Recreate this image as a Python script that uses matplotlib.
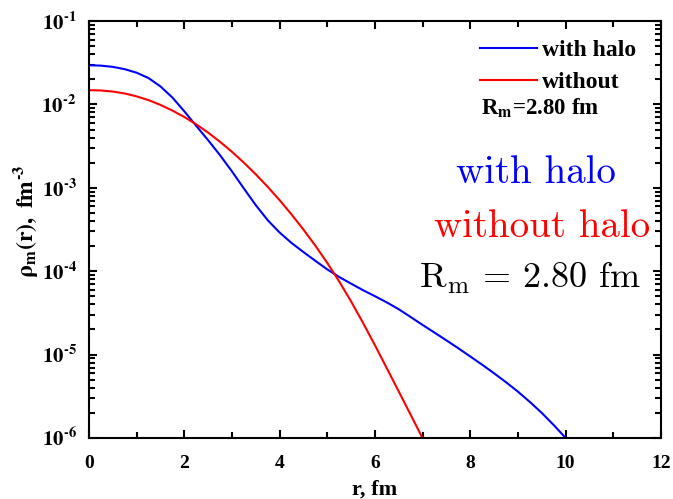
import matplotlib
matplotlib.use('Agg')
import matplotlib.pyplot as plt
from matplotlib.ticker import FixedLocator, LogLocator, NullFormatter, FuncFormatter
import numpy as np

# density profiles (log10 of rho, fm^-3)
r_halo = [0.0, 0.25, 0.5, 0.75, 1.0, 1.25, 1.5, 1.75, 2.0, 2.25, 2.5, 2.75,
          3.0, 3.25, 3.5, 3.75, 4.0, 4.25, 4.5, 4.75, 5.0, 5.25, 5.5, 5.75,
          6.0, 6.25, 6.5, 6.75, 7.0, 7.25, 7.5, 7.75, 8.0, 8.25, 8.5, 8.75,
          9.0, 9.25, 9.5, 9.75, 10.0]
lg_halo = [-1.530, -1.535, -1.550, -1.578, -1.620, -1.685, -1.785, -1.918,
           -2.083, -2.258, -2.430, -2.610, -2.804, -3.009, -3.209, -3.389,
           -3.537, -3.662, -3.771, -3.876, -3.979, -4.070, -4.150, -4.228,
           -4.300, -4.375, -4.457, -4.550, -4.645, -4.737, -4.830, -4.925,
           -5.023, -5.122, -5.225, -5.332, -5.445, -5.568, -5.700, -5.845,
           -6.000]

r_nohalo = [0.0, 0.25, 0.5, 0.75, 1.0, 1.25, 1.5, 1.75, 2.0, 2.25, 2.5, 2.75,
            3.0, 3.25, 3.5, 3.75, 4.0, 4.25, 4.5, 4.75, 5.0, 5.25, 5.5, 5.75,
            6.0, 6.25, 6.5, 6.75, 7.0]
lg_nohalo = [-1.829, -1.833, -1.846, -1.869, -1.904, -1.949, -2.006, -2.074,
             -2.151, -2.239, -2.339, -2.449, -2.569, -2.699, -2.839, -2.989,
             -3.149, -3.320, -3.502, -3.695, -3.902, -4.124, -4.364, -4.621,
             -4.889, -5.166, -5.444, -5.724, -6.004]

XTICKS = [0, 2, 4, 6, 8, 10, 12]
XMINOR = [1, 3, 5, 7, 9, 11]

plt.rcParams['font.family'] = 'Liberation Serif'
plt.rcParams['font.weight'] = 'bold'
plt.rcParams['mathtext.fontset'] = 'stix'

fig = plt.figure(figsize=(6.73, 4.99), dpi=100)
ax = fig.add_axes([89 / 673, 1 - 438 / 499, 572 / 673, 417 / 499])

ax.plot(r_halo, 10 ** np.array(lg_halo), color='#0000ff', lw=1.5,
        label='with halo')
ax.plot(r_nohalo, 10 ** np.array(lg_nohalo), color='#ff0000', lw=1.5,
        label='without')

ax.set_yscale('log')
ax.set_xlim(0, 12)
ax.set_ylim(1e-6, 1e-1)
ax.xaxis.set_major_locator(FixedLocator(XTICKS))
ax.xaxis.set_minor_locator(FixedLocator(XMINOR))
ax.yaxis.set_major_locator(LogLocator(base=10, numticks=10))
ax.yaxis.set_minor_locator(LogLocator(base=10, subs=np.arange(2, 10), numticks=10))
ax.yaxis.set_minor_formatter(NullFormatter())
ax.yaxis.set_major_formatter(FuncFormatter(
    lambda v, p: r'$\mathbf{10}^{\mathbf{\text{-}%d}}$' % abs(round(np.log10(v)))))

ax.tick_params(which='both', direction='in', top=True, right=True, width=1.5)
ax.tick_params(which='major', length=6)
ax.tick_params(which='minor', length=4)
ax.tick_params(axis='x', which='major', labelsize=14, pad=12)
ax.tick_params(axis='y', which='major', labelsize=15, pad=9)
for s in ax.spines.values():
    s.set_linewidth(1.5)

ax.set_xlabel('r, fm', fontsize=16, fontweight='bold', labelpad=6)
ax.set_ylabel(r'$\mathrm{\rho}_{\mathbf{m}}\mathbf{(r),\ fm}^{\mathbf{\text{-}3}}$',
              fontsize=17, labelpad=0)
ax.yaxis.set_label_coords(-0.086, 0.52)

leg = ax.legend(loc='upper left', bbox_to_anchor=(0.684, 0.955), frameon=False,
                prop={'weight': 'bold', 'size': 17}, handlelength=2.4,
                handletextpad=0.22, labelspacing=0.45, borderaxespad=0,
                borderpad=0)
ax.text(0.686, 0.775, r'R$_{\mathbf{m}}$' + '=2.80 fm', transform=ax.transAxes,
        fontsize=16.5, fontweight='bold', va='baseline', ha='left')

ax.text(0.781, 0.612, 'with halo', transform=ax.transAxes, family='cmr10',
        fontweight='normal', color='#0000ff', fontsize=28, ha='center',
        va='baseline')
ax.text(0.792, 0.482, 'without halo', transform=ax.transAxes, family='cmr10',
        fontweight='normal', color='#ff0000', fontsize=28, ha='center',
        va='baseline')
ax.text(0.771, 0.359, r'R$_\mathrm{m}$ = 2.80 fm', transform=ax.transAxes,
        family='cmr10', math_fontfamily='cm', fontweight='normal',
        color='black', fontsize=26, ha='center', va='baseline')

fig.savefig('out.png', dpi=100, facecolor='white')
